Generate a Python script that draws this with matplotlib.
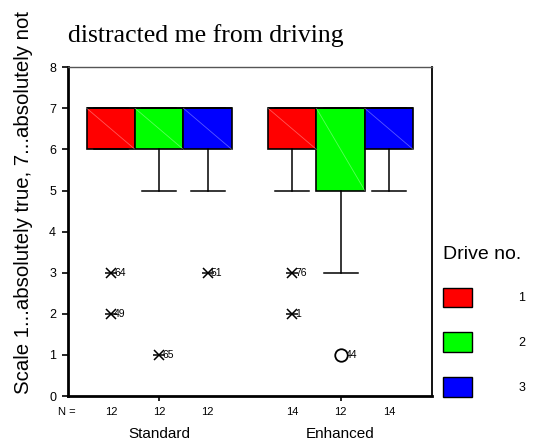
import numpy as np
import matplotlib.pyplot as plt
from matplotlib.patches import Patch

# data
groups = ["Standard", "Enhanced"]
drives = ["1", "2", "3"]
colors = ["#ff0000", "#00ff00", "#0000ff"]
n_counts = [12, 12, 12, 14, 12, 14]
q1 = [6, 6, 6, 6, 5, 6]
med = [7, 7, 7, 7, 7, 7]
q3 = [7, 7, 7, 7, 7, 7]
whislo = [6, 5, 5, 5, 3, 5]
whishi = [7, 7, 7, 7, 7, 7]
# extremes (*) and outliers (o): (box index, value, case label)
extremes = [(0, 3, "64"), (0, 2, "49"), (1, 1, "65"), (2, 3, "51"),
            (3, 3, "76"), (3, 2, "1")]
outliers = [(4, 1, "44")]

positions = [1, 2, 3, 4.75, 5.75, 6.75]
FONT = "Liberation Sans"

fig = plt.figure(figsize=(5.34, 4.45), dpi=100)
ax = fig.add_axes([0.127, 0.110, 0.682, 0.739])

stats = []
for i in range(6):
    stats.append(dict(q1=q1[i], med=med[i], q3=q3[i],
                      whislo=whislo[i], whishi=whishi[i], fliers=[]))

bp = ax.bxp(stats, positions=positions, widths=1.0, patch_artist=True,
            showfliers=False,
            boxprops=dict(linewidth=1.2, edgecolor="black"),
            medianprops=dict(color="black", linewidth=1.2),
            whiskerprops=dict(color="black", linewidth=1.1),
            capprops=dict(color="black", linewidth=1.1),
            capwidths=0.7)
for i, b in enumerate(bp["boxes"]):
    b.set_facecolor(colors[i % 3])
    # faint diagonal like the original hatch artifact
    x0 = positions[i] - 0.5
    ax.plot([x0, x0 + 1], [q3[i], q1[i]], color="white", alpha=0.35,
            linewidth=0.6, zorder=3)

for i, v, lab in extremes:
    ax.plot(positions[i], v, marker="x", color="black", markersize=6.5,
            markeredgewidth=1.1, zorder=4)
    ax.plot(positions[i], v, marker="_", color="black", markersize=8.5,
            markeredgewidth=1.1, zorder=4)
    ax.text(positions[i] + 0.07, v, lab, fontsize=7.5, va="center",
            ha="left", family=FONT)
for i, v, lab in outliers:
    ax.plot(positions[i], v, marker="o", markerfacecolor="white",
            markeredgecolor="black", markersize=9, markeredgewidth=1.3,
            zorder=4)
    ax.text(positions[i] + 0.1, v, lab, fontsize=7.5, va="center",
            ha="left", family=FONT)

ax.set_xlim(0.11, 7.64)
ax.set_ylim(0, 8)
ax.set_yticks(range(9))
ax.tick_params(axis="y", labelsize=9, width=1.2, length=4.5, pad=4)
for lab in ax.get_yticklabels():
    lab.set_family(FONT)

# group labels as x ticks at the group centres
centers = [np.mean(positions[3 * k:3 * k + 3]) for k in range(2)]
ax.set_xticks(centers)
ax.set_xticklabels(groups, family=FONT, fontsize=11)
ax.tick_params(axis="x", length=3.5, width=1.2, pad=19)

# N = counts under each box
trans = ax.get_xaxis_transform()
for p, n in zip(positions, n_counts):
    ax.text(p, -0.05, str(n), transform=trans, fontsize=8, ha="center",
            va="center", family=FONT)
ax.text(-0.003, -0.05, "N =", transform=ax.transAxes, fontsize=8,
        ha="center", va="center", family=FONT)

ax.spines["left"].set_linewidth(2)
ax.spines["bottom"].set_linewidth(2)
ax.spines["right"].set_linewidth(1.3)
ax.spines["top"].set_linewidth(1)
ax.spines["top"].set_color("#555555")

ax.set_ylabel("Scale 1...absolutely true, 7...absolutely not", fontsize=14.7,
              family=FONT)
ax.yaxis.set_label_coords(-0.096, 0.59)
fig.text(0.127, 0.906, "distracted me from driving", fontsize=18.5,
         family="Liberation Serif", ha="left", va="baseline")

handles = [Patch(facecolor=c, edgecolor="black", linewidth=1) for c in colors]
leg = ax.legend(handles, drives, loc="upper left",
                bbox_to_anchor=(0.818, 0.462), bbox_transform=fig.transFigure,
                frameon=False, fontsize=9, title="Drive no.",
                title_fontsize=14, handlelength=2.32, handleheight=2.05,
                handletextpad=3.7, labelspacing=2.0, borderpad=0)
leg._legend_box.align = "left"
leg.get_title().set_family(FONT)
for t in leg.get_texts():
    t.set_family(FONT)

fig.savefig("out.png", dpi=100)
